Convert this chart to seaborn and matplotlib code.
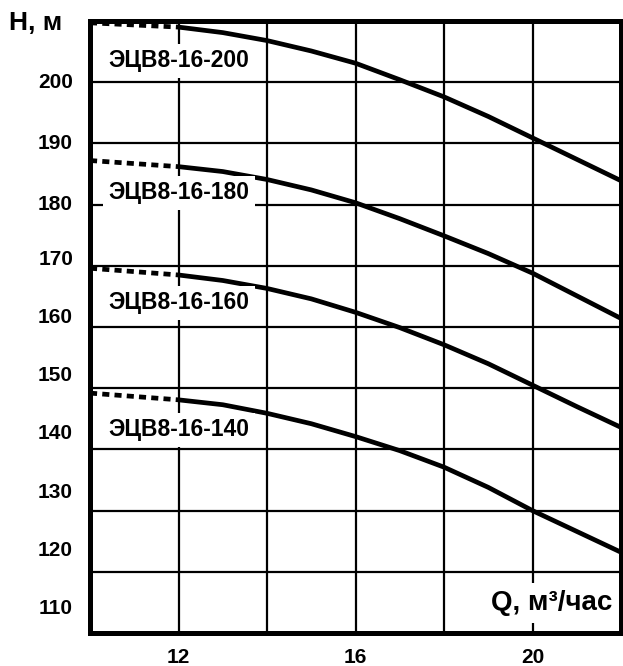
import pandas as pd
import seaborn as sns
import matplotlib.pyplot as plt
from matplotlib.transforms import blended_transform_factory

# кривые насосов ЭЦВ8-16 (Q, м3/час -> H, м)
q_solid = [12, 13, 14, 15, 16, 17, 18, 19, 20, 21, 22]
h_200 = [209.0, 208.1, 206.8, 205.1, 203.1, 200.4, 197.6, 194.4, 190.9, 187.4, 183.9]
h_180 = [186.2, 185.4, 184.1, 182.4, 180.3, 177.7, 174.9, 172.0, 168.8, 165.1, 161.4]
h_160 = [168.5, 167.6, 166.3, 164.6, 162.4, 159.9, 157.1, 154.0, 150.5, 147.0, 143.6]
h_140 = [148.1, 147.3, 145.9, 144.2, 142.1, 139.8, 137.1, 133.8, 130.0, 126.6, 123.2]

# пунктирное продолжение слева
q_dot = [10, 12]
h_200_dot = [209.7, 209.0]
h_180_dot = [187.2, 186.2]
h_160_dot = [169.6, 168.5]
h_140_dot = [149.2, 148.1]

models = ['ЭЦВ8-16-200', 'ЭЦВ8-16-180', 'ЭЦВ8-16-160', 'ЭЦВ8-16-140']
model_label_h = [203.5, 181.9, 164.0, 143.2]

x_grid = [12, 14, 16, 18, 20]
x_ticklabels = ['12', '', '16', '', '20']
y_grid = [120, 130, 140, 150, 160, 170, 180, 190, 200]
y_labels = ['200', '190', '180', '170', '160', '150', '140', '130', '120', '110']
y_label_pos = [200.0, 190.0, 180.0, 171.1, 161.55, 152.06, 142.68, 132.96, 123.45, 114.08]

solid = pd.concat([pd.DataFrame({'Q': q_solid, 'H': h, 'model': m})
                   for h, m in zip([h_200, h_180, h_160, h_140], models)])
dotted = pd.concat([pd.DataFrame({'Q': q_dot, 'H': h, 'model': m})
                    for h, m in zip([h_200_dot, h_180_dot, h_160_dot, h_140_dot], models)])

sns.set_theme(style='white')
plt.rcParams['font.family'] = ['Liberation Sans', 'DejaVu Sans']
plt.rcParams['font.weight'] = 'bold'

fig = plt.figure(figsize=(6.23, 6.66), dpi=100)
ax = fig.add_axes([0.1445, 0.0495, 0.8523, 0.919])

sns.lineplot(data=solid, x='Q', y='H', units='model', estimator=None, color='black',
             linewidth=3.4, solid_capstyle='butt', solid_joinstyle='round', ax=ax,
             legend=False, zorder=3)
sns.lineplot(data=dotted, x='Q', y='H', units='model', estimator=None, color='black',
             linewidth=3.4, linestyle=(0, (1.5, 1.1)), dash_capstyle='butt', ax=ax,
             legend=False, zorder=3)

ax.set_xlim(10, 22)
ax.set_ylim(110, 210)
ax.set_xticks(x_grid)
ax.set_xticklabels(x_ticklabels, fontsize=15, fontweight='bold')
ax.set_yticks(y_grid)
ax.set_yticklabels([])
ax.tick_params(length=0, colors='black')
ax.tick_params(axis='x', pad=11)
ax.grid(True, color='black', linewidth=1.6)
ax.set_axisbelow(True)
ax.set_xlabel('')
ax.set_ylabel('')
for s in ax.spines.values():
    s.set_visible(True)
    s.set_color('black')
    s.set_linewidth(3.6)
    s.set_zorder(5)

# подписи оси H
tr = blended_transform_factory(ax.transAxes, ax.transData)
for lab, pos in zip(y_labels, y_label_pos):
    ax.text(-0.032, pos, lab, transform=tr, ha='right', va='center',
            fontsize=15, fontweight='bold', color='black')

# подписи кривых
for m, h in zip(models, model_label_h):
    ax.text(12, h, m, ha='center', va='center', fontsize=16.5, fontweight='bold',
            color='black', zorder=4,
            bbox=dict(facecolor='white', edgecolor='none', pad=4))

ax.text(21.8, 114.9, 'Q, м³/час', ha='right', va='center', fontsize=20,
        fontweight='bold', color='black', zorder=4,
        bbox=dict(facecolor='white', edgecolor='none', pad=5))
fig.text(9 / 623, 1 - 23 / 666, 'H, м', ha='left', va='center', fontsize=19,
         fontweight='bold', color='black')

plt.savefig('out.png', dpi=100)
